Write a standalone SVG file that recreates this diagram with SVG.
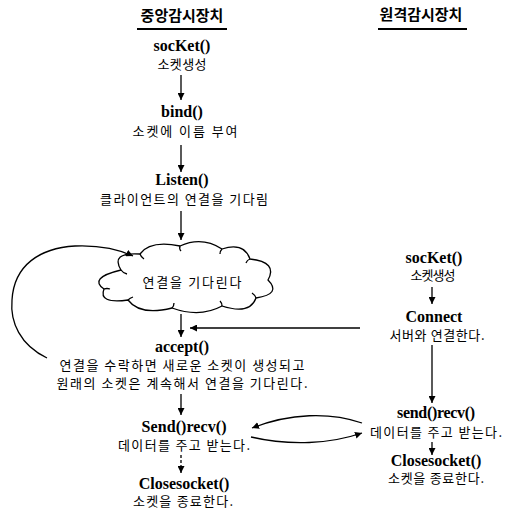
<svg xmlns="http://www.w3.org/2000/svg" width="509" height="511" viewBox="0 0 509 511">
<defs>
<style>
.fn{font-family:"Liberation Serif","Times New Roman",serif;font-weight:bold;font-size:16px;fill:#000;text-anchor:middle}
.kr{font-family:"Noto Sans CJK KR","Noto Sans",sans-serif;font-size:13px;fill:#000;text-anchor:middle}
.tt{font-family:"Noto Sans CJK KR","Noto Sans",sans-serif;font-weight:bold;font-size:15px;fill:#000;text-anchor:middle}
.ln{fill:none;stroke:#000;stroke-width:1.3}
</style>
<marker id="ah" viewBox="0 0 10 10" refX="10" refY="5" markerWidth="7" markerHeight="7" markerUnits="userSpaceOnUse" orient="auto">
<path d="M0,0 L10,5 L0,10 Z" fill="#000"/>
</marker>
</defs>
<rect width="509" height="511" fill="#fff"/>

<g id="title-left">
<text class="tt" x="182" y="21">중앙감시장치</text>
<line x1="137" y1="29" x2="227" y2="29" stroke="#000" stroke-width="2.2"/>
</g>
<g id="title-right">
<text class="tt" x="421" y="20">원격감시장치</text>
<line x1="378" y1="29" x2="467" y2="29" stroke="#000" stroke-width="2.2"/>
</g>

<g id="l-socket">
<text class="fn" x="182" y="51">socKet()</text>
<text class="kr" x="182" y="69" textLength="49">소켓생성</text>
</g>
<g id="l-bind">
<text class="fn" x="182" y="117">bind()</text>
<text class="kr" x="185" y="136" textLength="105">소켓에 이름 부여</text>
</g>
<g id="l-listen">
<text class="fn" x="182" y="185">Listen()</text>
<text class="kr" x="184" y="204" textLength="168">클라이언트의 연결을 기다림</text>
</g>
<g id="l-wait">
<path class="ln" d="M 121 270 Q 110 252 140 254 Q 150 240 180 246 Q 202 236 222 249 Q 244 242 250 259 Q 278 262 268 280 Q 282 294 256 298 Q 250 315 222 306 Q 200 318 172 308 Q 140 316 128 300 Q 98 304 104 289 Q 88 278 121 270 Z"/>
<path class="ln" d="M 121 270 q 2 3 6 4 M 140 254 q 1 3 4 5 M 180 246 q -1 3 1 5 M 222 249 q -2 2 -2 5 M 250 259 q -3 1 -4 4 M 256 298 q -1 -3 -4 -5 M 222 306 q 0 -3 -2 -5 M 172 308 q 2 -2 2 -5 M 128 300 q 2 -2 5 -3 M 104 289 q 3 -1 6 0"/>
<text class="kr" x="192" y="287" textLength="99">연결을 기다린다</text>
</g>
<g id="l-accept">
<text class="fn" x="182" y="352">accept()</text>
<text class="kr" x="182" y="370" textLength="245">연결을 수락하면 새로운 소켓이 생성되고</text>
<text class="kr" x="182" y="388" textLength="251">원래의 소켓은 계속해서 연결을 기다린다.</text>
</g>
<g id="l-send">
<text class="fn" x="184" y="432" textLength="85">Send()recv()</text>
<text class="kr" x="184" y="450" textLength="132">데이터를 주고 받는다.</text>
</g>
<g id="l-close">
<text class="fn" x="184" y="489">Closesocket()</text>
<text class="kr" x="183" y="506" textLength="100">소켓을 종료한다.</text>
</g>

<g id="r-socket">
<text class="fn" x="434" y="263">socKet()</text>
<text class="kr" x="433" y="280" textLength="45">소켓생성</text>
</g>
<g id="r-connect">
<text class="fn" x="434" y="322">Connect</text>
<text class="kr" x="437" y="340" textLength="95">서버와 연결한다.</text>
</g>
<g id="r-send">
<text class="fn" x="436" y="418" textLength="78">send()recv()</text>
<text class="kr" x="436" y="437" textLength="132">데이터를 주고 받는다.</text>
</g>
<g id="r-close">
<text class="fn" x="436" y="466">Closesocket()</text>
<text class="kr" x="436" y="483" textLength="96">소켓을 종료한다.</text>
</g>

<g id="connectors">
<line class="ln" x1="181" y1="75" x2="181" y2="100" marker-end="url(#ah)"/>
<line class="ln" x1="181" y1="145" x2="181" y2="172" marker-end="url(#ah)"/>
<line class="ln" x1="181" y1="211" x2="181" y2="240" marker-end="url(#ah)"/>
<line class="ln" x1="181" y1="314" x2="181" y2="337" marker-end="url(#ah)"/>
<line class="ln" x1="360" y1="328" x2="190" y2="328" marker-end="url(#ah)"/>
<path class="ln" d="M 47 358 C 20 345 10 322 12 300 C 14 265 40 248 75 246 C 100 245 118 249 133 256" marker-end="url(#ah)"/>
<line class="ln" x1="181" y1="394" x2="181" y2="415" marker-end="url(#ah)"/>
<line class="ln" x1="181" y1="455" x2="181" y2="473" stroke-dasharray="3,2" marker-end="url(#ah)"/>
<line class="ln" x1="432" y1="287" x2="432" y2="304" marker-end="url(#ah)"/>
<line class="ln" x1="432" y1="345" x2="432" y2="403" marker-end="url(#ah)"/>
<line class="ln" x1="432" y1="442" x2="432" y2="455" marker-end="url(#ah)"/>
<path class="ln" d="M 362 423 C 330 412 290 413 252 428" marker-end="url(#ah)"/>
<path class="ln" d="M 251 437 C 290 446 330 444 362 433" marker-end="url(#ah)"/>
</g>
</svg>
